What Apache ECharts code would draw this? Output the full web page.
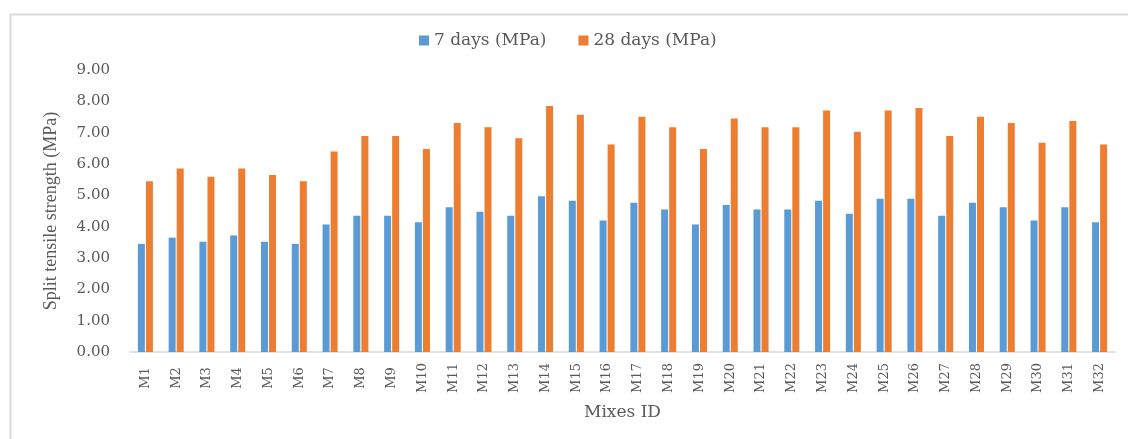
<!DOCTYPE html>
<html>
<head>
<meta charset="utf-8">
<script src="https://cdn.jsdelivr.net/npm/echarts@6/dist/echarts.min.js"></script>
<style>
html,body{margin:0;padding:0;background:#fff;}
#chart{width:1128px;height:439px;}
</style>
</head>
<body>
<div id="chart"></div>
<script>
var categories = ['M1','M2','M3','M4','M5','M6','M7','M8','M9','M10','M11','M12','M13','M14','M15','M16','M17','M18','M19','M20','M21','M22','M23','M24','M25','M26','M27','M28','M29','M30','M31','M32'];
var days7 = [3.45,3.65,3.52,3.72,3.52,3.45,4.07,4.35,4.35,4.14,4.62,4.48,4.35,4.97,4.83,4.20,4.76,4.55,4.07,4.69,4.55,4.55,4.83,4.41,4.89,4.89,4.35,4.76,4.62,4.20,4.62,4.14];
var days28 = [5.45,5.86,5.59,5.86,5.65,5.45,6.40,6.89,6.89,6.48,7.31,7.17,6.82,7.85,7.57,6.62,7.51,7.17,6.48,7.45,7.17,7.17,7.71,7.03,7.71,7.79,6.89,7.51,7.31,6.68,7.37,6.62];
var seriesNames = ['7 days (MPa)', '28 days (MPa)'];
var yTicks = {min: 0, max: 9, interval: 1};

var FONT = 'DejaVu Serif';
var GRAY = '#595959';
var chart = echarts.init(document.getElementById('chart'), null, {renderer: 'canvas'});
chart.setOption({
  animation: false,
  backgroundColor: '#fff',
  color: ['#5B9BD5', '#ED7D31'],
  graphic: [{
    type: 'rect', left: 8, top: 12, silent: true,
    shape: {width: 1200, height: 500},
    style: {fill: 'none', stroke: '#D9D9D9', lineWidth: 2}
  }],
  legend: {
    data: seriesNames,
    left: 414, top: 27,
    itemWidth: 10, itemHeight: 10, itemGap: 32,
    icon: 'rect',
    textStyle: {fontFamily: FONT, fontSize: 17, color: GRAY}
  },
  grid: {left: 130, right: 13, top: 70, bottom: 87, containLabel: false},
  xAxis: {
    type: 'category',
    data: categories,
    name: 'Mixes ID',
    nameLocation: 'middle',
    nameGap: 52,
    nameTextStyle: {fontFamily: FONT, fontSize: 17, color: GRAY},
    axisLine: {lineStyle: {color: '#D9D9D9', width: 1.5}},
    axisTick: {show: false},
    axisLabel: {
      rotate: 90, align: 'center', verticalAlign: 'middle', margin: 26,
      fontFamily: FONT, fontSize: 13, color: GRAY, interval: 0
    }
  },
  yAxis: {
    type: 'value',
    min: yTicks.min, max: yTicks.max, interval: yTicks.interval,
    name: 'Split tensile strength (MPa)',
    nameLocation: 'middle',
    nameGap: 70,
    nameTextStyle: {fontFamily: 'Liberation Serif', fontSize: 18, color: GRAY},
    axisLine: {show: false},
    axisTick: {show: false},
    splitLine: {show: false},
    axisLabel: {
      margin: 20, fontFamily: FONT, fontSize: 15, color: GRAY,
      formatter: function (v) { return v.toFixed(2); }
    }
  },
  series: [
    {name: seriesNames[0], type: 'bar', data: days7, barWidth: 7, barGap: '15%'},
    {name: seriesNames[1], type: 'bar', data: days28, barWidth: 7, barGap: '15%'}
  ]
});
</script>
</body>
</html>
